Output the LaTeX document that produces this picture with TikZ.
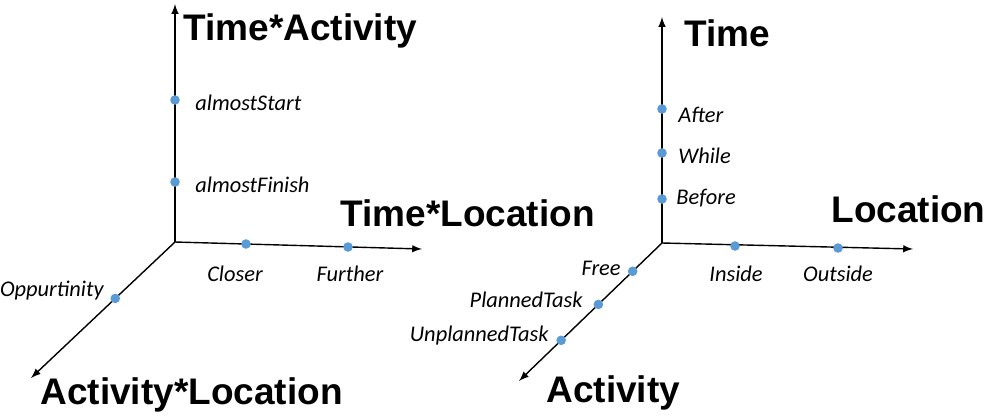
\documentclass[tikz,border=0pt]{standalone}
\usepackage{fontspec}
\setmainfont{Liberation Sans}
\newfontfamily\labelfont{Carlito}
\usetikzlibrary{arrows,calc}
\definecolor{dotblue}{RGB}{91,155,213}

\begin{document}
\begin{tikzpicture}[x=0.5pt, y=-0.5pt, >=latex,
  axis/.style = {line width=0.7pt, ->},
  pt/.style = {circle, fill=dotblue, inner sep=0pt, minimum size=4.8pt},
  title/.style = {font=\fontsize{18.5}{20}\selectfont\bfseries, inner sep=0pt},
  tag/.style = {font=\labelfont\itshape\fontsize{11.2}{13}\selectfont, inner sep=0pt}]
\useasboundingbox (0,0) rectangle (985,414);

% left diagram
\coordinate (o1) at (175,242);
\coordinate (up1) at (175,4);
\coordinate (rt1) at (422,249);
\coordinate (dn1) at (31,378);
\draw [axis] (o1) -- (up1);
\draw [axis] (o1) -- (rt1);
\draw [axis] (o1) -- (dn1);

\node[pt] (almostStart) at (175,100) {};
\node[pt] (almostFinish) at (175,182) {};
\node[pt] (closer) at (246,244) {};
\node[pt] (further) at (348,247) {};
\node[pt] (oppurtinity) at ($(o1)!0.415!(dn1)$) {};

\node[title, anchor=west] (timeAct) at (183,31) {Time*Activity};
\node[title, anchor=west] (timeLoc) at (340,213) {Time*Location};
\node[title, anchor=west] (actLoc) at (40,395) {Activity*Location};

\node[tag, anchor=west] at (195,103) {almostStart};
\node[tag, anchor=west] at (195,185) {almostFinish};
\node[tag] at (235,274) {Closer};
\node[tag] at (350,274) {Further};
\node[tag, anchor=east] at (104,291) {Oppurtinity};

% right diagram
\coordinate (o2) at (662,243);
\coordinate (up2) at (662,17);
\coordinate (rt2) at (913,249);
\coordinate (dn2) at (519,381);
\draw [axis] (o2) -- (up2);
\draw [axis] (o2) -- (rt2);
\draw [axis] (o2) -- (dn2);

\node[pt] (after) at (662,109) {};
\node[pt] (while) at (662,153) {};
\node[pt] (before) at (662,199) {};
\node[pt] (inside) at (735,246) {};
\node[pt] (outside) at (838,248) {};
\node[pt] (free) at ($(o2)!0.205!(dn2)$) {};
\node[pt] (planned) at ($(o2)!0.445!(dn2)$) {};
\node[pt] (unplanned) at ($(o2)!0.705!(dn2)$) {};

\node[title, anchor=west] (time) at (684,33) {Time};
\node[title, anchor=west] (location) at (831,209) {Location};
\node[title, anchor=west] (activity) at (546,393) {Activity};

\node[tag, anchor=west] at (678,115) {After};
\node[tag, anchor=west] at (678,156) {While};
\node[tag, anchor=west] at (676,198) {Before};
\node[tag] at (736,274) {Inside};
\node[tag] at (838,274) {Outside};
\node[tag, anchor=east] at (621,268) {Free};
\node[tag, anchor=east] at (583,300) {PlannedTask};
\node[tag, anchor=east] at (549,336) {UnplannedTask};
\end{tikzpicture}
\end{document}
